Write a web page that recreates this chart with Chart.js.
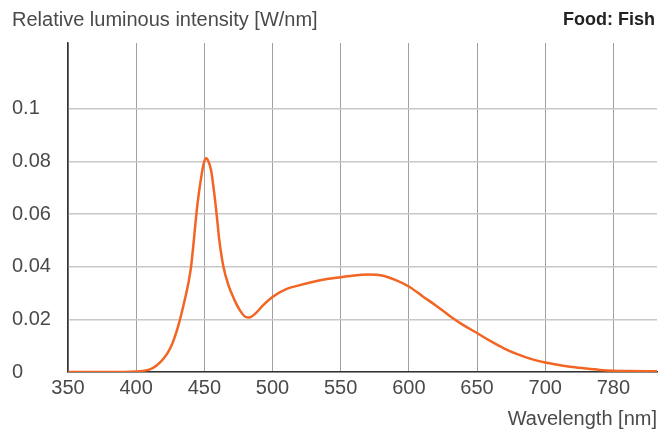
<!DOCTYPE html>
<html>
<head>
<meta charset="utf-8">
<script src="https://cdn.jsdelivr.net/npm/chart.js@4.4.1/dist/chart.umd.min.js"></script>
<style>
  html, body { margin:0; padding:0; background:#fff; }
  #wrap { width:669px; height:434px; }
</style>
</head>
<body>
<div id="wrap"><canvas id="spectrum"></canvas></div>
<script>
// spectrum (x = position on the axis in nm, y = W/nm)
const wavelengths = [350, 380, 400, 410, 415, 420, 425, 430, 435, 440, 445, 448, 450, 451.5, 453, 455, 457, 459, 461, 464, 468, 472, 476, 480, 483, 487, 493, 500, 510, 520, 530, 540, 550, 560, 570, 580, 590, 600, 610, 620, 630, 640, 650, 660, 670, 680, 690, 700, 710, 720, 730, 740, 750, 760, 782];
const intensity   = [0, 0, 0.0002, 0.001, 0.0025, 0.005, 0.009, 0.016, 0.026, 0.039, 0.064, 0.075, 0.080, 0.0812, 0.080, 0.0765, 0.069, 0.060, 0.050, 0.040, 0.0325, 0.0275, 0.0235, 0.021, 0.0207, 0.022, 0.0253, 0.0285, 0.0315, 0.033, 0.0343, 0.0353, 0.036, 0.0367, 0.037, 0.0367, 0.035, 0.0325, 0.0288, 0.0252, 0.0213, 0.0178, 0.0148, 0.0117, 0.0089, 0.0067, 0.0049, 0.0036, 0.0027, 0.0019, 0.0013, 0.0008, 0.0005, 0.0004, 0.0003];

const xTickPos    = [350, 400, 450, 500, 550, 600, 650, 700, 750];
const xTickLabels = ['350', '400', '450', '500', '550', '600', '650', '700', '780'];
const yTicks      = [0, 0.02, 0.04, 0.06, 0.08, 0.1];

const FONT = '"Liberation Sans", Arial, sans-serif';
const TEXT = '#4a4a4a';

const headerText = {
  id: 'headerText',
  afterDraw(chart) {
    const ctx = chart.ctx;
    ctx.save();
    ctx.fillStyle = TEXT;
    ctx.textBaseline = 'alphabetic';
    ctx.font = '20px ' + FONT;
    ctx.textAlign = 'left';
    ctx.fillText('Relative luminous intensity [W/nm]', 12, 26);
    ctx.font = 'bold 18px ' + FONT;
    ctx.fillStyle = '#222';
    ctx.textAlign = 'right';
    ctx.fillText('Food: Fish', 655, 25);
    ctx.restore();
  }
};

new Chart(document.getElementById('spectrum').getContext('2d'), {
  type: 'line',
  data: {
    datasets: [{
      data: wavelengths.map((w, i) => ({ x: w, y: intensity[i] })),
      borderColor: '#f26522',
      borderWidth: 2.5,
      pointRadius: 0,
      fill: false,
      cubicInterpolationMode: 'monotone'
    }]
  },
  options: {
    responsive: true,
    maintainAspectRatio: false,
    animation: false,
    layout: { padding: { left: 12, right: 12, top: 43, bottom: 4 } },
    plugins: { legend: { display: false }, tooltip: { enabled: false } },
    scales: {
      x: {
        type: 'linear',
        min: 350,
        max: 782,
        afterBuildTicks: axis => { axis.ticks = xTickPos.map(v => ({ value: v })); },
        ticks: {
          callback: (v, i) => xTickLabels[i],
          color: TEXT,
          font: { family: FONT, size: 20 },
          padding: 4,
          maxRotation: 0,
          autoSkip: false
        },
        grid: { color: '#a0a0a0', lineWidth: 1, drawTicks: false },
        border: { color: '#333', width: 1.5 },
        title: {
          display: true,
          text: 'Wavelength [nm]',
          align: 'end',
          color: TEXT,
          font: { family: FONT, size: 20, lineHeight: 1.1 },
          padding: { top: 4, bottom: 0 }
        }
      },
      y: {
        min: 0,
        max: 0.125,
        afterBuildTicks: axis => { axis.ticks = yTicks.map(v => ({ value: v })); },
        afterFit: scale => { scale.width = 56; },
        ticks: {
          callback: v => String(v),
          color: TEXT,
          font: { family: FONT, size: 20 },
          crossAlign: 'far',
          padding: 8
        },
        grid: { color: '#c8c8c8', lineWidth: 1.5, drawTicks: false },
        border: { color: '#333', width: 1.5 }
      }
    }
  },
  plugins: [headerText]
});
</script>
</body>
</html>
